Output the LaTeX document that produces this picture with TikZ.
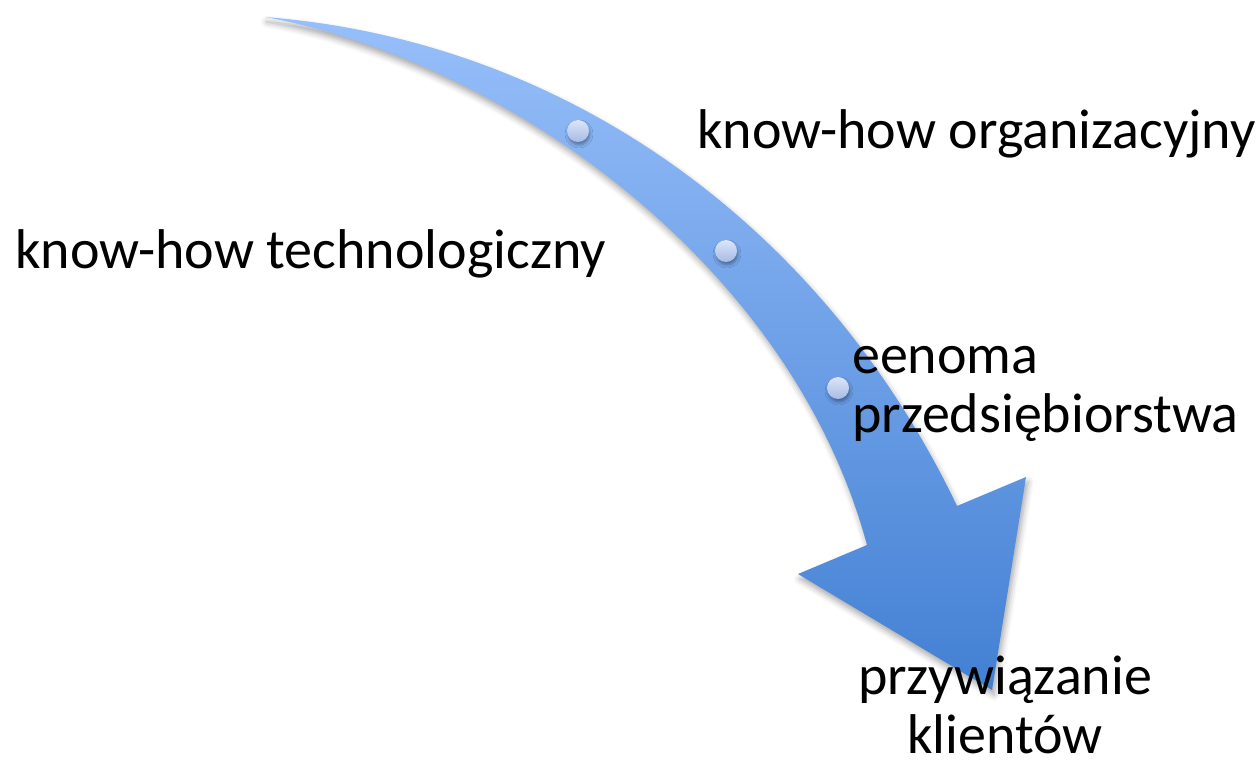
\documentclass[tikz,border=0pt]{standalone}
\usepackage{fontspec}
\setmainfont{Carlito}
\usepackage{tikz}
\usetikzlibrary{shadows.blur}
\definecolor{arrowtop}{HTML}{97BFFA}
\definecolor{arrowbottom}{HTML}{4380D3}
\definecolor{dottop}{HTML}{DCE5F8}
\definecolor{dotbottom}{HTML}{A6BBE5}

\begin{document}
\begin{tikzpicture}[x=1pt, y=-1pt]
    \tikzset{%
        steptext/.style={inner sep=0pt, font=\fontsize{56pt}{59pt}\selectfont},
        stepdot/.style={circle, minimum size=22pt, inner sep=0pt,
                top color=dottop, bottom color=dotbottom,
                blur shadow={shadow xshift=1pt, shadow yshift=-3pt, shadow blur radius=3pt, shadow opacity=35}},
        bigarrow/.style={top color=arrowtop, bottom color=arrowbottom,
                blur shadow={shadow xshift=2pt, shadow yshift=-5pt, shadow blur radius=6pt, shadow opacity=35}},
    }

    \useasboundingbox (0, 0) rectangle (1260, 760);

    % curved arrow
    \path [bigarrow] (265, 17) .. controls (560, 40) and (820, 220) .. (957, 506)
        -- (1026, 477) -- (992, 690) -- (798, 574) -- (867, 545)
        .. controls (790, 260) and (500, 60) .. (265, 17) -- cycle;

    % dots on the arrow
    \node [stepdot] (dotA) at (578, 131) {};
    \node [stepdot] (dotB) at (726, 251) {};
    \node [stepdot] (dotC) at (838, 388) {};

    % labels (base = last line)
    \node [steptext, anchor=base west] (techText) at (15, 268) {know-how technologiczny};
    \node [steptext, anchor=base west] (orgText) at (697, 148) {know-how organizacyjny};
    \node [steptext, anchor=base west, align=left] (firmText) at (852, 432) {eenoma\\przedsiębiorstwa};
    \node [steptext, anchor=base, align=center] (clientText) at (1005, 753) {przywiązanie\\klientów};
\end{tikzpicture}
\end{document}
